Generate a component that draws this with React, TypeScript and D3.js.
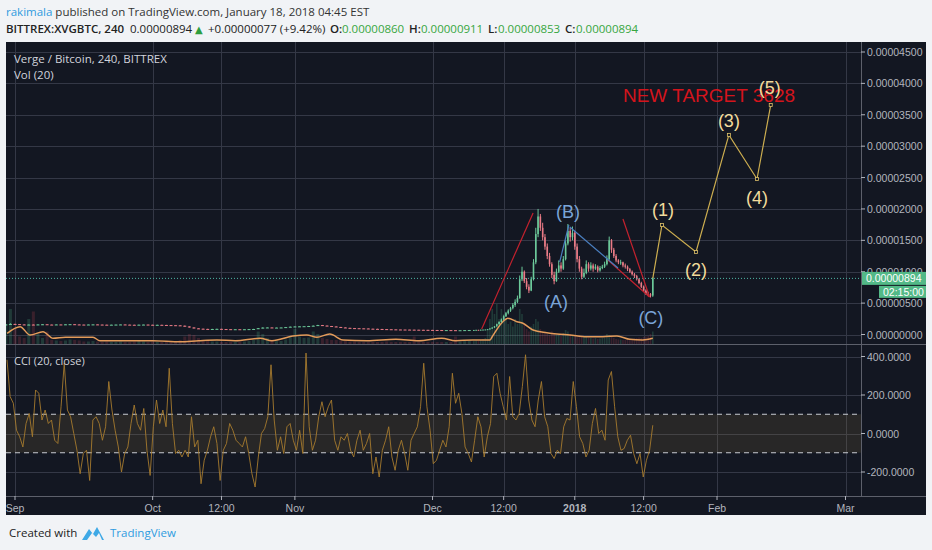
import React from 'react';
import * as d3 from 'd3';

const W = 932;
const H = 550;

// prices in satoshi (1e-8 BTC); [open, high, low, close, volume]
// daily bars from Aug 30 2017
const dailyStart = '2017-08-30T00:00';
const dailyBars: number[][] = [
  [156,166,152,160,400],[160,178,158,168,700],
  [168,172,162,165,300],[165,167,157,160,150],[160,162,153,156,120],[156,161,154,158,500],[158,160,150,154,650],
  [154,163,153,160,200],[160,166,158,163,120],[163,164,156,158,250],[158,159,153,156,80],[156,162,155,160,70],
  [160,161,156,158,60],[158,164,157,162,70],[162,167,160,164,90],[164,165,158,160,80],[160,162,155,158,70],
  [158,159,154,156,50],[156,161,155,159,50],[159,163,158,161,60],[161,162,156,158,50],[158,159,154,156,40],
  [156,157,152,154,50],[154,158,153,156,40],[156,160,155,158,40],[158,162,157,160,50],[160,161,155,157,40],
  [157,158,153,155,40],[155,156,151,153,50],[153,158,152,156,60],[156,160,155,158,50],[158,159,153,155,40],
  [155,156,150,152,50],[152,156,151,154,40],[154,155,150,152,40],[152,153,148,150,50],[150,152,146,148,50],
  [148,150,144,146,60],[146,147,138,140,80],[140,142,126,128,150],[128,130,110,112,200],[112,114,96,98,180],
  [98,100,90,92,120],[92,94,88,89,80],[89,91,86,87,60],[87,90,86,88,50],[88,92,87,90,50],
  [90,91,86,87,40],[87,88,84,85,40],[85,86,82,83,40],[83,86,82,84,40],[84,85,81,82,40],
  [82,85,81,84,50],[84,87,83,86,60],[86,90,85,88,80],[88,104,87,100,250],[100,114,98,110,200],
  [110,116,108,112,120],[112,113,105,108,80],[108,112,106,110,60],[110,114,108,112,60],[112,120,110,118,90],
  [118,126,116,124,150],
  [124,130,122,128,300],[128,133,126,130,150],[130,134,128,132,120],[132,137,130,135,130],[135,143,133,140,250],
  [140,154,138,150,200],[150,152,140,142,120],[142,144,133,135,100],[135,136,126,128,80],[128,129,118,120,80],
  [120,121,110,112,70],[112,113,104,106,60],[106,107,100,102,50],[102,104,98,100,50],[100,101,96,98,40],
  [98,99,94,96,40],[96,97,90,92,40],[92,93,88,90,40],[90,92,87,88,40],[88,89,84,86,40],
  [86,87,83,84,50],[84,85,81,82,40],[82,83,79,80,40],[80,81,78,79,40],[79,80,77,78,40],
  [78,80,76,77,40],[77,79,75,76,150],[76,77,74,75,50],[75,76,73,74,40],[74,75,72,73,40],
  [73,74,71,72,40],[72,73,70,71,40],[71,72,69,70,40],[70,71,69,70,40],[70,71,68,69,40],
  [69,70,67,68,150],[68,69,67,68,50],[68,71,67,70,60],[70,72,69,71,60],
];

// 12h bars from Dec 10 2017
const rallyStart = '2017-12-10T00:00';
const rallyBars: number[][] = [
  [71,73,70,72,60],[72,75,71,74,70],[74,75,72,73,60],[73,77,72,76,80],[76,79,75,78,100],
  [78,82,77,80,120],[80,88,79,85,300],[85,98,84,95,500],[95,115,93,110,700],[110,135,105,130,600],
  [130,172,125,165,800],[165,210,158,200,500],[200,255,190,240,700],[240,305,230,290,600],[290,360,280,340,500],
  [340,400,320,380,400],[380,440,360,420,450],[420,500,400,470,350],[470,560,440,520,500],[520,620,500,580,400],
  [580,940,570,880,700],[880,1080,850,1000,600],[1000,1020,820,850,400],[850,900,720,760,300],[760,800,660,700,250],
  [700,920,690,880,350],[880,1200,860,1150,400],[1150,1700,1120,1600,500],[1600,2000,1550,1880,450],[1880,1920,1650,1700,300],
  [1700,1780,1500,1550,250],[1550,1600,1350,1400,220],[1400,1450,1200,1250,200],[1250,1300,1080,1120,180],[1120,1150,900,950,250],
  [950,1000,800,850,220],[850,1050,840,1000,180],[1000,1180,980,1100,200],[1100,1150,1000,1050,160],[1050,1250,1030,1200,220],
  [1200,1500,1180,1450,280],[1450,1760,1420,1650,250],[1650,1700,1480,1550,200],[1550,1720,1500,1620,180],[1620,1650,1350,1400,160],
  [1400,1450,1150,1200,150],[1200,1250,1000,1050,180],[1050,1080,880,920,150],[920,1050,900,980,140],[980,1180,960,1120,160],
  [1120,1150,1000,1050,130],[1050,1150,1020,1100,120],[1100,1130,1000,1050,110],[1050,1120,1030,1080,120],[1080,1100,990,1020,100],
  [1020,1090,1000,1060,110],[1060,1110,1040,1080,120],[1080,1160,1060,1120,130],[1120,1260,1100,1200,200],[1200,1560,1180,1500,180],
  [1500,1520,1300,1350,150],[1350,1380,1220,1250,120],[1250,1280,1150,1180,100],[1180,1200,1120,1150,90],[1150,1190,1110,1150,90],
  [1150,1160,1070,1100,80],[1100,1130,1050,1080,80],[1080,1100,1010,1040,80],[1040,1060,980,1000,90],[1000,1020,940,960,100],
  [960,980,900,930,110],[930,950,860,880,120],[880,900,800,820,130],[820,840,740,760,120],[760,780,680,700,140],
  [700,720,630,650,150],[650,680,610,640,160],[640,660,590,620,200],[620,911,600,894,250],
];

const lastClose = 894;

// Volume MA(20): day offset from Sep 1 2017, value
const volMaDays = [-1.7,1.1,3.3,6.1,8.3,11,17,18.5,30,36,40,44,48,53.4,56,60.6,63.6,65.8,68.6,71.5,76.7,83,88,93,96,99.8,103.5,104,106.3,107.4,109.4,110.7,112.9,115.9,118.1,120.9,124.6,128.1,131.2,134,136.8,139];
const volMaValues = [214,346,180,246,114,134,134,66,66,46,66,80,66,114,66,160,180,134,200,80,66,94,66,114,66,80,80,146,446,514,446,414,280,226,200,180,146,146,160,94,80,114];

// CCI(20, close), evenly spaced from cciStart to cciEnd
const cciStart = '2017-08-30T06:00';
const cciEnd = '2018-01-18T00:00';
const cciValues = [
  383,191,157,17,-17,-70,52,104,-17,226,
  209,70,122,52,70,-35,-52,139,365,122,
  87,0,-87,-209,-104,-87,-244,70,87,52,
  -35,35,270,122,17,-70,-200,-104,-70,52,
  148,52,17,130,-87,-218,35,174,52,122,
  35,339,52,-104,-87,-122,-87,-122,87,-70,
  -35,-261,-139,-87,-17,35,-52,-244,-87,-52,
  52,17,-35,-52,-70,-17,-104,-209,-278,-122,
  0,26,87,357,70,-87,-17,-104,35,52,
  -35,-87,17,-104,418,35,-87,-35,87,165,
  87,139,174,-35,-87,-17,-35,0,-87,-122,
  -35,17,-87,-52,0,-209,-122,-226,-87,-35,
  35,-122,-191,-87,-35,-104,-191,-35,0,35,
  139,365,139,17,-157,-139,-87,-35,-70,35,
  313,157,209,
  104,-70,-104,-148,-35,87,35,-122,-17,52,
  296,313,209,139,70,296,87,70,104,244,
  409,174,70,35,174,270,87,35,-104,-130,
  -87,-104,35,78,70,270,139,-17,-52,-122,
  -87,52,130,0,17,-35,278,322,139,-17,
  -87,-78,-35,-9,-104,-157,-104,-226,-139,-87,
  43,
];

// drawings (time, price in BTC)
const redSegments: [string, number][][] = [
  [['2017-12-11T17:00', 0.88e-6], ['2017-12-22T22:00', 19.35e-6]],
  [['2018-01-08T05:00', 11.87e-6], ['2018-01-17T07:00', 5.97e-6]],
  [['2018-01-11T12:00', 18.4e-6], ['2018-01-17T07:00', 5.97e-6]],
];
const blueSegments: [string, number][][] = [
  [['2017-12-28T17:00', 11.55e-6], ['2017-12-30T17:00', 17.44e-6]],
  [['2017-12-30T22:00', 17.12e-6], ['2018-01-10T10:00', 10.59e-6]],
];
const wavePoints: [string, number][] = [
  ['2018-01-18T00:00', 8.94e-6],
  ['2018-01-20T00:00', 17.44e-6],
  ['2018-01-27T10:00', 13.14e-6],
  ['2018-02-03T14:00', 31.8e-6],
  ['2018-02-09T17:00', 24.77e-6],
  ['2018-02-12T17:00', 36.56e-6],
];
const waveLabels: [string, number, string][] = [
  ['2018-01-20T05:00', 19.83e-6, '(1)'],
  ['2018-01-27T10:00', 10.27e-6, '(2)'],
  ['2018-02-03T14:00', 34.0e-6, '(3)'],
  ['2018-02-09T17:00', 21.74e-6, '(4)'],
  ['2018-02-12T12:00', 39.26e-6, '(5)'],
];
const abcLabels: [string, number, string][] = [
  ['2017-12-27T22:00', 5.2e-6, '(A)'],
  ['2017-12-30T12:00', 19.5e-6, '(B)'],
  ['2018-01-17T14:00', 2.6e-6, '(C)'],
];
const targetNote: [string, number, string] = ['2018-01-11T12:00', 37.0e-6, 'NEW TARGET 3628'];

const priceTicks = [0, 5e-6, 10e-6, 15e-6, 20e-6, 25e-6, 30e-6, 35e-6, 40e-6, 45e-6];
const cciTicks = [400, 200, 0, -200];
const timeTicks: [string, string][] = [
  ['2017-09-01T00:00', 'Sep'], ['2017-10-01T00:00', 'Oct'], ['2017-10-16T00:00', '12:00'],
  ['2017-11-01T00:00', 'Nov'], ['2017-12-01T00:00', 'Dec'], ['2017-12-16T12:00', '12:00'],
  ['2018-01-01T00:00', '2018'], ['2018-01-16T00:00', '12:00'], ['2018-02-01T00:00', 'Feb'],
  ['2018-03-01T00:00', 'Mar'],
];

const DAY = 864e5;
const d = (s: string) => new Date(s);

// layout
const L = 6, R = 861, RE = 926;
const mainTop = 42, mainBottom = 344, cciBottom = 496, axisBottom = 515;

const BG = '#131722';
const GRID = '#343846';
const SEP = '#5d606b';
const AXT = '#b2b5be';
const UP = '#6cc99a';
const DOWN = '#ea7b86';
const FONT = '"Open Sans", sans-serif';
const AFONT = '"Liberation Sans", Arial, sans-serif';

export default function App() {
  const x = d3.scaleTime().domain([d('2017-09-01T00:00'), d('2018-03-01T00:00')]).range([15, 845.5]);
  const y = d3.scaleLinear().domain([0, 45e-6]).range([334.5, 52]);
  const yCci = d3.scaleLinear().domain([-200, 400]).range([472, 356.5]);
  const yVol = d3.scaleLinear().domain([0, 1000]).range([mainBottom, mainBottom - 50]);

  const t0 = d(dailyStart).getTime();
  const t1 = d(rallyStart).getTime();
  const bars = [
    ...dailyBars.map((b, i) => ({ t: new Date(t0 + i * DAY), b, w: 3 })),
    ...rallyBars.map((b, i) => ({ t: new Date(t1 + i * DAY / 2), b, w: 1.6 })),
  ];
  const sat = (v: number) => v * 1e-8;

  const cs = d(cciStart).getTime();
  const ce = d(cciEnd).getTime();
  const cciLine = d3.line<number>()
    .x((_, i) => x(new Date(cs + (i * (ce - cs)) / (cciValues.length - 1))))
    .y((v) => yCci(v))(cciValues) as string;

  const sep1 = d('2017-09-01T00:00').getTime();
  const maLine = d3.line<number>()
    .x((_, i) => x(new Date(sep1 + volMaDays[i] * DAY)))
    .y((v) => yVol(v))
    .curve(d3.curveMonotoneX)(volMaValues) as string;

  const pt = (p: [string, number]) => [x(d(p[0])), y(p[1])] as [number, number];
  const waveLine = d3.line()(wavePoints.map(pt)) as string;
  const lastY = y(sat(lastClose));

  return (
    <svg width={W} height={H} style={{ position: 'absolute', left: 0, top: 0 }}>
      <defs>
        <clipPath id="mainClip"><rect x={L} y={mainTop} width={R - L} height={mainBottom - mainTop} /></clipPath>
        <clipPath id="cciClip"><rect x={L} y={mainBottom + 1} width={R - L} height={cciBottom - mainBottom - 1} /></clipPath>
      </defs>
      <rect width={W} height={H} fill="#f1f3f6" />

      {/* header */}
      <text x={6} y={16} fontFamily={FONT} fontSize={11.5}>
        <tspan fill="#2f9be0">rakimala</tspan>
        <tspan fill="#333"> published on TradingView.com, January 18, 2018 04:45 EST</tspan>
      </text>
      <g fontFamily={FONT} fontSize={11.5} fill="#222">
        <text x={6} y={33} fontWeight={600}>BITTREX:XVGBTC, 240</text>
        <text x={130} y={33}>0.00000894</text>
        <text x={195} y={33} fill="#2e9e3e" fontFamily="DejaVu Sans" fontSize={10}>▲</text>
        <text x={208} y={33}>+0.00000077 (+9.42%)</text>
        <text x={330} y={33} fontWeight={600}>O:</text>
        <text x={342} y={33} fill="#37a640">0.00000860</text>
        <text x={409} y={33} fontWeight={600}>H:</text>
        <text x={421} y={33} fill="#37a640">0.00000911</text>
        <text x={488} y={33} fontWeight={600}>L:</text>
        <text x={498} y={33} fill="#37a640">0.00000853</text>
        <text x={565} y={33} fontWeight={600}>C:</text>
        <text x={576} y={33} fill="#37a640">0.00000894</text>
      </g>

      {/* chart background */}
      <rect x={L} y={mainTop} width={RE - L} height={axisBottom - mainTop} fill={BG} />

      {/* grid */}
      <g stroke={GRID} strokeWidth={1}>
        {timeTicks.map(([t]) => (
          <line key={t} x1={Math.round(x(d(t))) + 0.5} x2={Math.round(x(d(t))) + 0.5} y1={mainTop} y2={cciBottom} />
        ))}
        {priceTicks.map((p) => (
          <line key={p} x1={L} x2={R} y1={Math.round(y(p)) + 0.5} y2={Math.round(y(p)) + 0.5} />
        ))}
        {cciTicks.map((c) => (
          <line key={c} x1={L} x2={R} y1={Math.round(yCci(c)) + 0.5} y2={Math.round(yCci(c)) + 0.5} />
        ))}
      </g>

      {/* main pane */}
      <g clipPath="url(#mainClip)">
        {bars.map(({ t, b, w }, i) => {
          const cx = x(t);
          return (
            <rect key={'v' + i} x={cx - w / 2} y={yVol(b[4])} width={w} height={mainBottom - yVol(b[4])}
              fill={b[3] >= b[0] ? 'rgba(83,185,135,0.22)' : 'rgba(235,77,92,0.18)'} />
          );
        })}
        <path d={maLine} fill="none" stroke="#e39b5a" strokeWidth={1.5} />
        {bars.map(({ t, b, w }, i) => {
          const cx = x(t);
          const [o, h, l, c] = b.map(sat);
          const col = c >= o ? UP : DOWN;
          const top = y(Math.max(o, c));
          const bh = Math.max(1, Math.abs(y(o) - y(c)));
          return (
            <g key={'c' + i}>
              <line x1={cx} x2={cx} y1={y(h)} y2={y(l)} stroke={col} strokeWidth={1} />
              <rect x={cx - w / 2} y={top} width={w} height={bh} fill={col} />
            </g>
          );
        })}
        <line x1={L} x2={R} y1={lastY} y2={lastY} stroke="#4fb8a6" strokeWidth={1} strokeDasharray="1 2" />

        {redSegments.map((s, i) => {
          const [a, b] = s.map(pt);
          return <line key={'r' + i} x1={a[0]} y1={a[1]} x2={b[0]} y2={b[1]} stroke="#c4222e" strokeWidth={1.2} />;
        })}
        {blueSegments.map((s, i) => {
          const [a, b] = s.map(pt);
          return <line key={'b' + i} x1={a[0]} y1={a[1]} x2={b[0]} y2={b[1]} stroke="#4a7fc0" strokeWidth={1.2} />;
        })}
        <path d={waveLine} fill="none" stroke="#cdae50" strokeWidth={1.2} />
        {wavePoints.slice(1).map((p, i) => {
          const [px, py] = pt(p);
          return <rect key={'w' + i} x={px - 1.5} y={py - 1.5} width={3} height={3} fill={BG} stroke="#e0c36a" strokeWidth={0.8} />;
        })}
        <text x={x(d(targetNote[0]))} y={y(targetNote[1])} fill="#d4141c" fontFamily={AFONT} fontSize={19}>{targetNote[2]}</text>
        {waveLabels.map(([t, p, s]) => (
          <text key={s} x={x(d(t))} y={y(p)} fill="#f2dc9c" fontFamily={AFONT} fontSize={18}
            textAnchor="middle" dominantBaseline="central">{s}</text>
        ))}
        {abcLabels.map(([t, p, s]) => (
          <text key={s} x={x(d(t))} y={y(p)} fill="#7ba5d8" fontFamily={AFONT} fontSize={18}
            textAnchor="middle" dominantBaseline="central">{s}</text>
        ))}
      </g>
      <text x={14} y={63} fill="#d1d4dc" fontFamily={FONT} fontSize={11.5}>Verge / Bitcoin, 240, BITTREX</text>
      <text x={14} y={79} fill="#d1d4dc" fontFamily={FONT} fontSize={11.5}>Vol (20)</text>

      {/* CCI pane */}
      <g clipPath="url(#cciClip)">
        <rect x={L} y={yCci(100)} width={R - L} height={yCci(-100) - yCci(100)} fill="rgba(155,125,70,0.16)" />
        <line x1={L} x2={R} y1={yCci(100)} y2={yCci(100)} stroke="#c8cbd2" strokeDasharray="5 4" />
        <line x1={L} x2={R} y1={yCci(-100)} y2={yCci(-100)} stroke="#c8cbd2" strokeDasharray="5 4" />
        <path d={cciLine} fill="none" stroke="#a67b2e" strokeWidth={0.9} />
      </g>
      <text x={14} y={365} fill="#d1d4dc" fontFamily={FONT} fontSize={11}>CCI (20, close)</text>

      {/* separators */}
      <g stroke={SEP} strokeWidth={1}>
        <line x1={R + 0.5} x2={R + 0.5} y1={mainTop} y2={cciBottom} />
        <line x1={L} x2={RE} y1={mainBottom + 0.5} y2={mainBottom + 0.5} />
        <line x1={L} x2={RE} y1={cciBottom + 0.5} y2={cciBottom + 0.5} />
      </g>

      {/* price axis */}
      <g fontFamily={AFONT} fontSize={10.5} fill={AXT}>
        {priceTicks.map((p) => (
          <g key={p}>
            <line x1={R} x2={R + 4} y1={y(p)} y2={y(p)} stroke={AXT} />
            <text x={867} y={y(p)} dominantBaseline="central">{p.toFixed(8)}</text>
          </g>
        ))}
        {cciTicks.map((c) => (
          <g key={c}>
            <line x1={R} x2={R + 4} y1={yCci(c)} y2={yCci(c)} stroke={AXT} />
            <text x={867} y={yCci(c)} dominantBaseline="central">{c.toFixed(4)}</text>
          </g>
        ))}
      </g>
      <rect x={R + 1} y={lastY - 6.5} width={RE - R - 1} height={13} fill="#53b987" />
      <text x={866} y={lastY} fill="#fff" fontFamily={AFONT} fontSize={10.5} dominantBaseline="central">0.00000894</text>
      <rect x={879} y={lastY + 7.5} width={RE - 879} height={12} fill="#53b987" />
      <text x={883} y={lastY + 13.5} fill="#fff" fontFamily={AFONT} fontSize={10.5} dominantBaseline="central">02:15:00</text>

      {/* time axis */}
      <g fontFamily={AFONT} fontSize={10.5} fill={AXT}>
        {timeTicks.map(([t, s]) => (
          <g key={t}>
            <line x1={x(d(t))} x2={x(d(t))} y1={cciBottom} y2={cciBottom + 4} stroke={AXT} />
            <text x={x(d(t))} y={508} textAnchor="middle" dominantBaseline="central"
              fontWeight={s === '2018' ? 700 : 400}>{s}</text>
          </g>
        ))}
      </g>

      {/* footer */}
      <text x={9} y={537} fill="#222" fontFamily={FONT} fontSize={11.5}>Created with</text>
      <path d="M82,540 L89,529 L93,534 L97,527 L104,540 Z M87,540 L92,533 L96,537 L99,533 L102,540 Z"
        fill="#3fa9e6" fillRule="evenodd" />
      <text x={110} y={537} fill="#2f9be0" fontFamily={FONT} fontSize={11.5}>TradingView</text>
    </svg>
  );
}
